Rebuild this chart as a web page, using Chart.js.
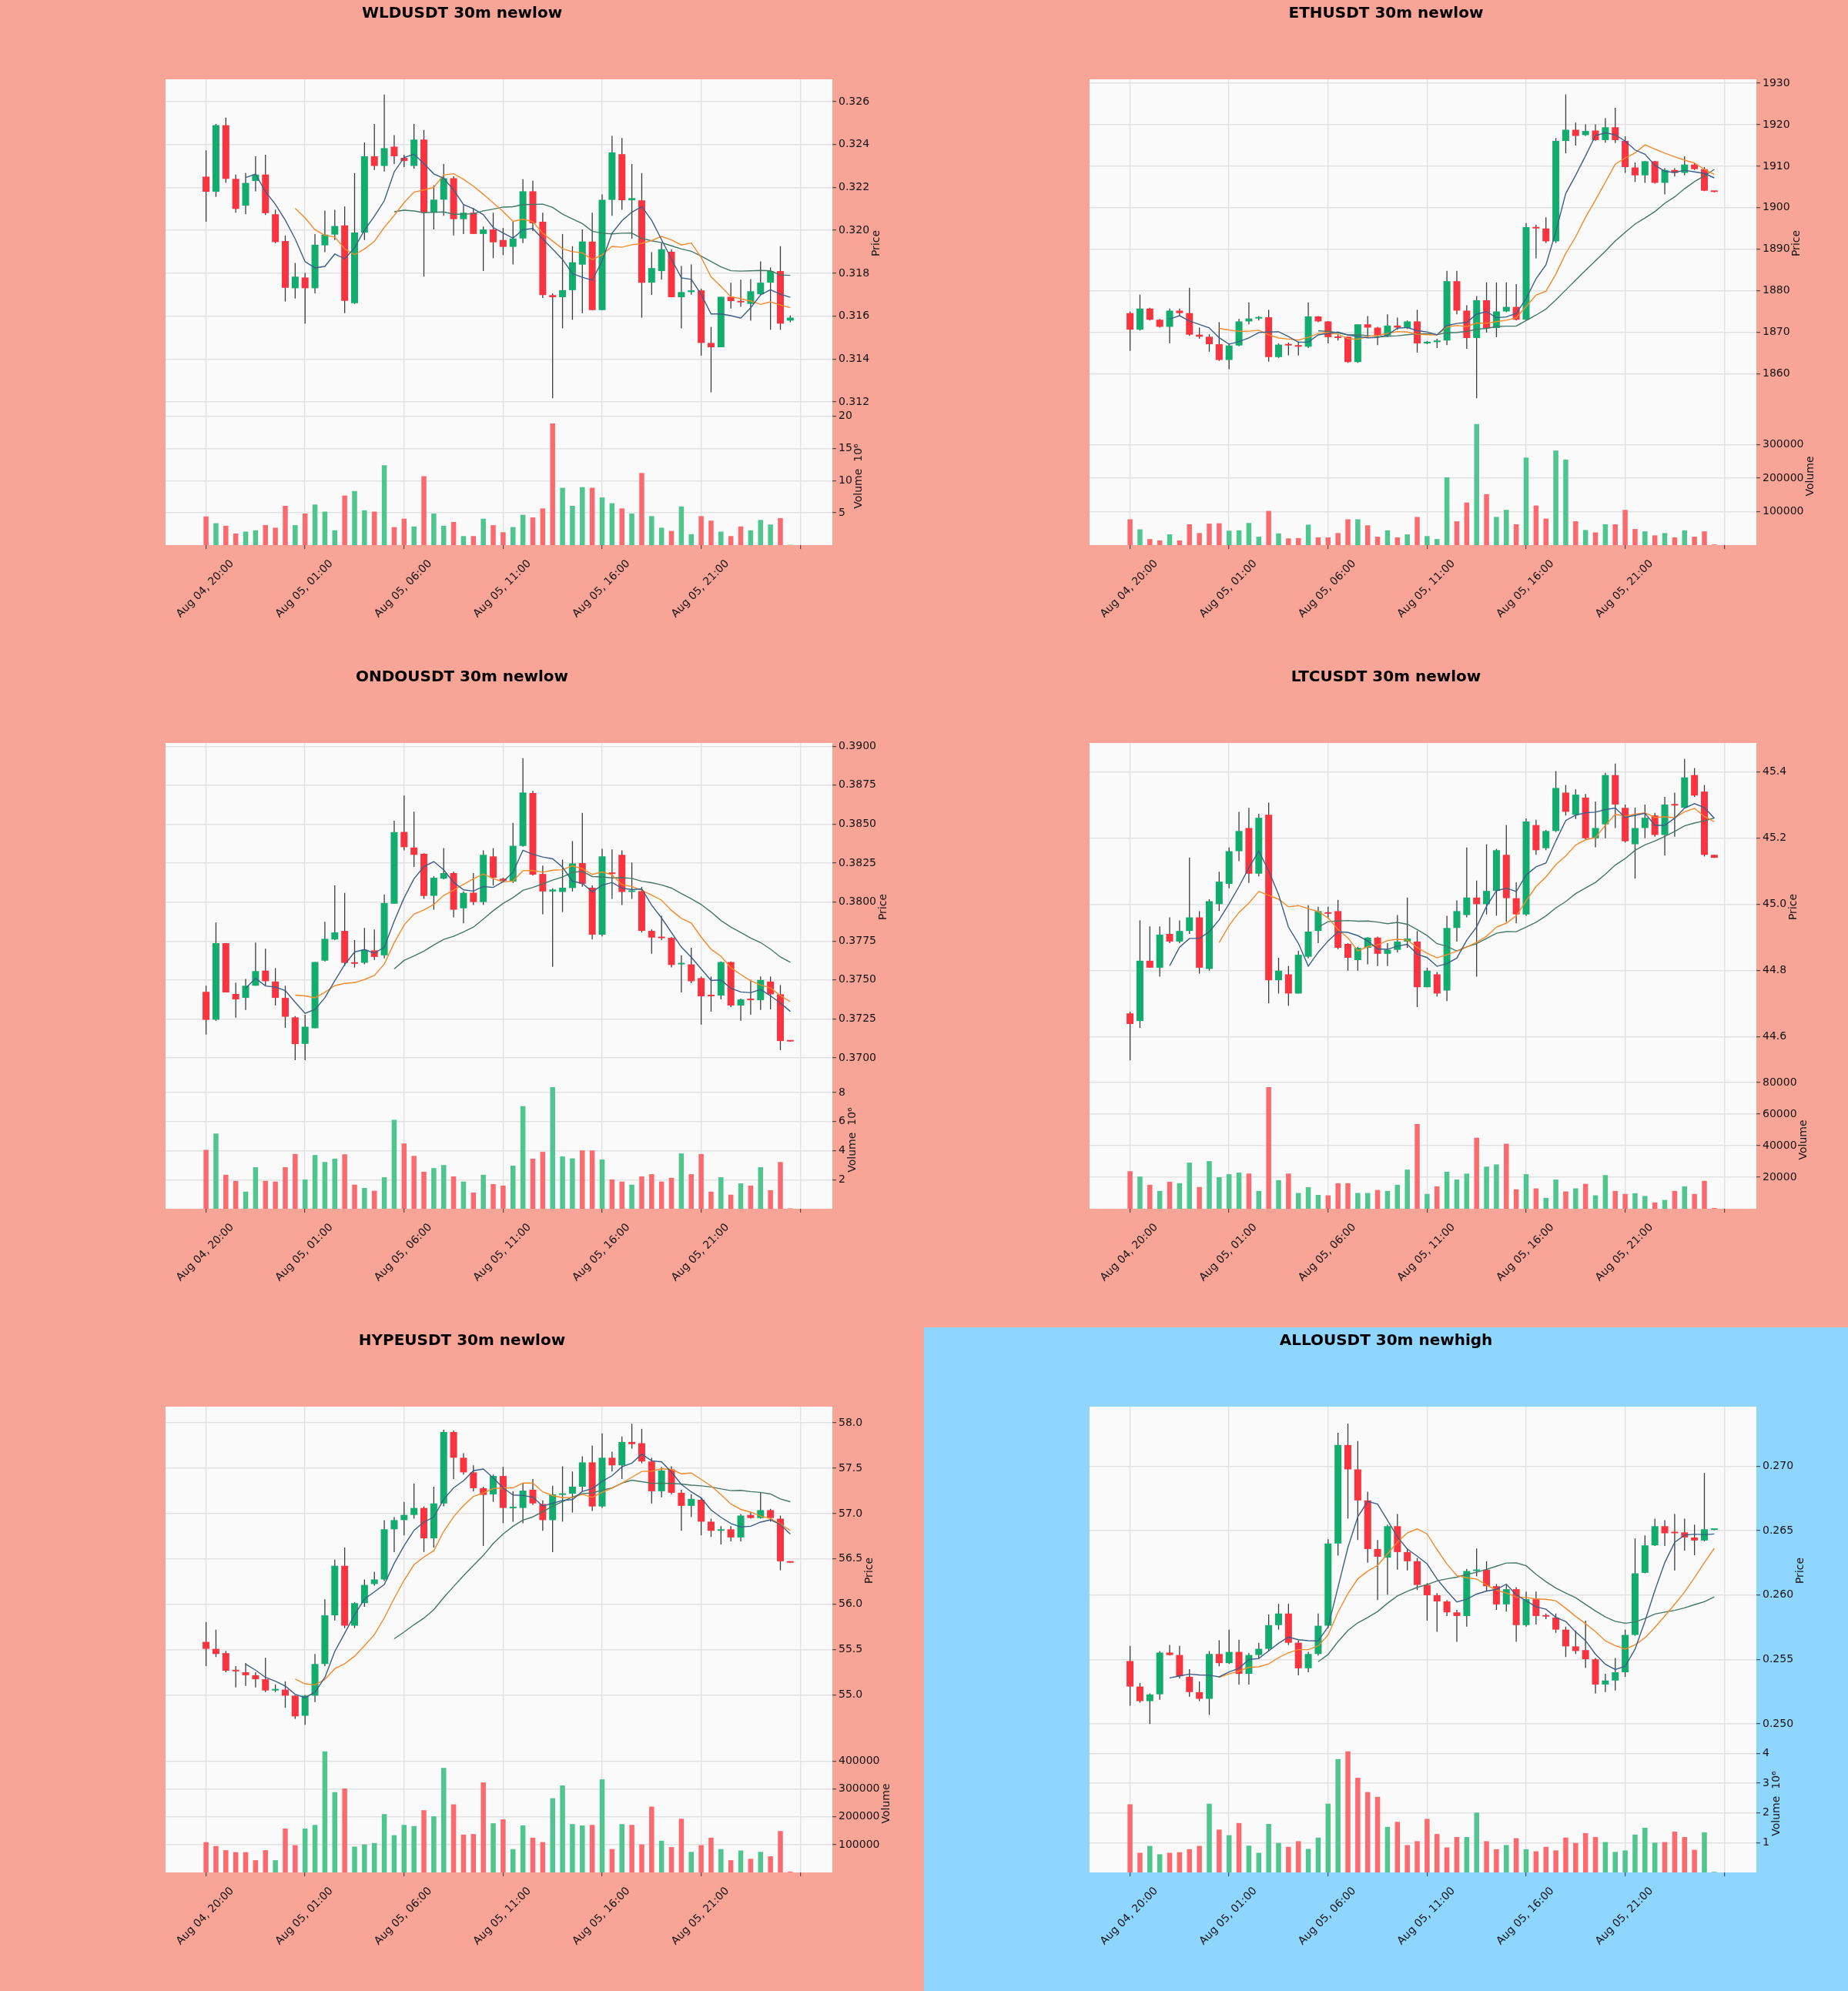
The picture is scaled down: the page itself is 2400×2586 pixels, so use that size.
<!DOCTYPE html>
<html><head><meta charset="utf-8">
<script src="https://cdn.jsdelivr.net/npm/chart.js@4.4.0/dist/chart.umd.min.js"></script>
<style>
html,body{margin:0;padding:0;}
body{width:2400px;height:2586px;position:relative;overflow:hidden;background:#F8A598;}
.panel{position:absolute;width:1200px;height:862px;}
.panel canvas{position:absolute;left:0;top:0;}
.ttl{position:absolute;left:0;width:1200px;top:4px;line-height:24px;text-align:center;font:bold 20px "DejaVu Sans";color:#000;}
</style></head><body>
<script>
// ---------- shared axis data ----------
const xTickPositions = [0,10,20,30,40,50,60];
const xTickLabels = ['Aug 04, 20:00','Aug 05, 01:00','Aug 05, 06:00','Aug 05, 11:00','Aug 05, 16:00','Aug 05, 21:00',''];
const maPeriods = [5,10,20];

// ---------- WLDUSDT ----------
const wldOpen = [0.3225,0.3218,0.3249,0.3224,0.32115,0.3223,0.3226,0.32075,0.3195,0.3173,0.3178,0.3173,0.3193,0.3198,0.32023,0.3166,0.3199,0.32345,0.3230,0.3239,0.32338,0.3230,0.32423,0.32082,0.32143,0.32243,0.32052,0.32082,0.31983,0.32004,0.31955,0.31923,0.31962,0.32182,0.3204,0.31698,0.31688,0.31721,0.3184,0.31948,0.31628,0.32142,0.32355,0.3214,0.3214,0.31756,0.3181,0.319,0.31688,0.31712,0.3172,0.31475,0.31455,0.3169,0.3167,0.31657,0.31702,0.31756,0.3181,0.31579];
const wldHigh = [0.32373,0.32496,0.32525,0.3226,0.32267,0.32345,0.32352,0.32096,0.31976,0.31848,0.31801,0.31983,0.32092,0.32096,0.32111,0.32267,0.32409,0.32496,0.32633,0.32444,0.32352,0.32496,0.32468,0.3221,0.32309,0.32252,0.32118,0.32104,0.32018,0.32082,0.32011,0.3204,0.32238,0.32231,0.32082,0.31706,0.31983,0.31926,0.32004,0.32082,0.32167,0.3244,0.3243,0.32309,0.32267,0.31898,0.3194,0.31912,0.31834,0.31841,0.31728,0.3155,0.3169,0.31756,0.3177,0.31773,0.31855,0.31827,0.31926,0.31603];
const wldLow = [0.3204,0.32156,0.32221,0.32082,0.32075,0.32182,0.32071,0.3194,0.31668,0.31682,0.31565,0.31706,0.31898,0.31955,0.31614,0.31657,0.31955,0.32281,0.32274,0.32309,0.32295,0.32288,0.31784,0.32004,0.32068,0.31976,0.31983,0.31983,0.3181,0.3187,0.31884,0.31841,0.3194,0.31997,0.31685,0.31217,0.31543,0.31583,0.31614,0.31628,0.31628,0.32068,0.32096,0.31961,0.31593,0.31699,0.3177,0.31688,0.31543,0.317,0.31416,0.31245,0.31455,0.31635,0.31643,0.31579,0.31699,0.31536,0.31536,0.31572];
const wldClose = [0.3218,0.3249,0.3224,0.3210,0.32221,0.3226,0.3208,0.31945,0.31732,0.31784,0.3173,0.31933,0.3198,0.3202,0.31671,0.3199,0.32345,0.3230,0.32383,0.32345,0.32323,0.32423,0.32082,0.32143,0.32243,0.32052,0.32082,0.31983,0.32004,0.31944,0.31923,0.31962,0.32182,0.32033,0.31698,0.31688,0.31721,0.31851,0.31948,0.31628,0.32142,0.32363,0.3214,0.3215,0.31756,0.31824,0.31912,0.31688,0.31712,0.3172,0.31475,0.31455,0.3169,0.3167,0.31664,0.31716,0.31756,0.3181,0.31565,0.31593];
const wldVolume = [4.45,3.4,3.0,1.8,2.1,2.3,3.1,2.7,6.1,3.1,4.9,6.3,5.2,2.3,7.7,8.4,5.4,5.2,12.4,2.8,4.1,2.9,10.7,4.9,3.0,3.6,1.4,1.4,4.1,3.1,2.0,2.8,4.7,4.3,5.7,18.9,8.9,6.1,9.0,8.9,7.4,6.5,5.7,4.9,11.2,4.5,2.7,2.2,6.0,1.7,4.5,3.8,2.1,1.4,2.9,2.3,3.9,3.2,4.2,0.05];
const wldPriceTicks = [0.312,0.314,0.316,0.318,0.320,0.322,0.324,0.326];
const wldPriceLabels = ['0.312','0.314','0.316','0.318','0.320','0.322','0.324','0.326'];
const wldVolTicks = [5,10,15,20];
const wldVolLabels = ['5','10','15','20'];

// ---------- ETHUSDT ----------
const ethOpen = [1874.6,1870.6,1875.7,1873.0,1871.3,1875.2,1874.6,1869.4,1868.9,1867.1,1863.3,1866.8,1872.6,1873.3,1873.6,1864.0,1867.0,1866.9,1866.5,1873.8,1872.6,1868.9,1868.9,1862.8,1871.9,1871.1,1869.2,1871.6,1871.0,1872.6,1867.3,1867.6,1868.0,1882.3,1875.2,1868.6,1877.7,1871.0,1875.0,1876.1,1873.0,1895.3,1895.0,1891.9,1916.1,1918.8,1917.5,1918.6,1916.3,1919.4,1916.1,1909.7,1907.8,1911.2,1906.0,1909.1,1908.4,1910.4,1909.3,1903.9];
const ethHigh = [1875.0,1879.05,1875.9,1873.2,1875.7,1875.7,1880.7,1871.1,1869.5,1872.4,1867.3,1873.2,1877.2,1873.9,1875.4,1867.3,1867.5,1867.7,1877.2,1873.9,1872.7,1869.5,1868.9,1871.9,1873.9,1871.3,1874.3,1873.5,1872.8,1875.4,1867.9,1868.4,1884.8,1884.8,1876.5,1878.7,1882.0,1882.0,1882.0,1881.6,1896.3,1895.9,1897.7,1916.8,1927.3,1920.5,1920.1,1920.1,1921.6,1924.1,1917.2,1910.9,1911.3,1911.3,1909.5,1909.5,1912.4,1910.9,1909.8,1904.0];
const ethLow = [1865.5,1870.4,1872.8,1871.1,1867.3,1873.9,1869.1,1868.4,1865.3,1863.1,1861.1,1866.6,1871.9,1872.8,1862.9,1863.8,1864.4,1864.4,1866.2,1872.4,1867.3,1868.0,1862.6,1862.6,1868.8,1866.9,1868.8,1870.6,1870.8,1865.1,1867.1,1866.2,1866.9,1874.3,1866.0,1854.1,1869.9,1868.8,1874.8,1872.8,1872.8,1887.8,1891.5,1891.5,1913.1,1915.0,1917.3,1916.1,1915.7,1915.6,1908.4,1906.2,1906.0,1905.8,1903.2,1907.5,1907.8,1909.1,1904.0,1903.7];
const ethClose = [1870.6,1875.7,1873.0,1871.3,1875.2,1874.6,1869.4,1868.9,1867.1,1863.3,1866.8,1872.6,1873.3,1873.6,1864.0,1867.0,1866.8,1866.5,1873.8,1872.6,1868.8,1868.6,1862.8,1871.9,1871.1,1869.2,1871.6,1871.1,1872.6,1867.3,1867.7,1868.0,1882.3,1875.2,1868.6,1877.7,1871.0,1875.0,1876.1,1873.0,1895.3,1895.0,1891.9,1916.1,1918.8,1917.3,1918.5,1916.3,1919.4,1916.3,1909.8,1907.8,1911.2,1906.0,1909.1,1908.4,1910.4,1909.3,1904.1,1903.8];
const ethVolume = [77000,47000,18000,14000,32000,14000,62000,36000,64000,65000,43000,44000,66000,25000,102000,35000,20000,21000,61000,23000,23000,36000,77000,77000,59000,25000,44000,23000,32000,84000,27000,18000,202000,71000,127000,361000,152000,84000,105000,62000,261000,118000,79000,282000,255000,71000,45000,38000,62000,62000,105000,48000,41000,29000,36000,23000,44000,25000,41000,2000];
const ethPriceTicks = [1860,1870,1880,1890,1900,1910,1920,1930];
const ethPriceLabels = ['1860','1870','1880','1890','1900','1910','1920','1930'];
const ethVolTicks = [100000,200000,300000];
const ethVolLabels = ['100000','200000','300000'];

// ---------- ONDOUSDT ----------
const ondoOpen = [0.37424,0.37244,0.37736,0.3741,0.37385,0.37463,0.3756,0.3749,0.37385,0.3726,0.3709,0.3719,0.37624,0.3776,0.37815,0.3761,0.3761,0.3769,0.37658,0.3799,0.3845,0.3835,0.3831,0.3804,0.3815,0.38186,0.3796,0.3806,0.38,0.38293,0.3815,0.38131,0.3836,0.387,0.3818,0.38068,0.38065,0.3809,0.3825,0.38092,0.3779,0.38186,0.38303,0.38065,0.3807,0.37815,0.3777,0.3777,0.376,0.376,0.37512,0.374,0.374,0.37615,0.37336,0.37375,0.3737,0.3749,0.37408,0.37106];
const ondoHigh = [0.37463,0.37869,0.37736,0.37483,0.37506,0.3774,0.37701,0.37576,0.37463,0.37268,0.37277,0.37615,0.37873,0.38107,0.38059,0.37756,0.37834,0.37824,0.38049,0.38522,0.38684,0.3858,0.38313,0.38166,0.38346,0.38195,0.38068,0.38186,0.38332,0.38346,0.38156,0.38508,0.38924,0.38713,0.38234,0.38088,0.38273,0.38391,0.38572,0.38107,0.38342,0.38338,0.38332,0.38254,0.38098,0.37824,0.37912,0.37776,0.37658,0.37707,0.37522,0.37522,0.37619,0.37619,0.37381,0.37502,0.37522,0.37522,0.37467,0.37106];
const ondoLow = [0.3715,0.37238,0.3742,0.37258,0.37307,0.37463,0.37463,0.37336,0.37193,0.36985,0.36985,0.3719,0.37619,0.37756,0.3759,0.3758,0.376,0.37629,0.37639,0.3799,0.38332,0.38225,0.3802,0.37951,0.38147,0.37902,0.37863,0.37981,0.37981,0.38107,0.38127,0.38123,0.38355,0.3817,0.37922,0.37584,0.37936,0.38068,0.38098,0.3776,0.37779,0.3802,0.37981,0.3802,0.37805,0.37668,0.37756,0.3758,0.3742,0.37479,0.37213,0.37297,0.37375,0.37326,0.37238,0.37277,0.37307,0.37311,0.37049,0.37105];
const ondoClose = [0.37244,0.37736,0.3742,0.37375,0.37463,0.37557,0.37492,0.37385,0.37264,0.37088,0.372,0.37615,0.37764,0.37805,0.3761,0.37604,0.37693,0.37648,0.37994,0.38449,0.38352,0.38303,0.38039,0.38156,0.38186,0.37951,0.38059,0.38,0.38303,0.38156,0.38137,0.38361,0.38703,0.38176,0.38068,0.3808,0.38092,0.38248,0.38117,0.37791,0.38293,0.3818,0.38065,0.3807,0.37815,0.37772,0.37768,0.37596,0.37604,0.37492,0.37395,0.37395,0.37615,0.37336,0.37375,0.3737,0.375,0.37408,0.37108,0.37105];
const ondoVolume = [4.06,5.18,2.34,1.92,1.18,2.86,1.92,1.87,2.86,3.77,2.02,3.7,3.22,3.45,3.75,1.66,1.43,1.24,2.17,6.13,4.5,3.64,2.55,2.8,3.01,2.23,1.87,1.12,2.34,1.7,1.6,2.97,7.07,3.45,3.92,8.38,3.6,3.47,4.02,4.02,3.39,2.02,1.87,1.66,2.23,2.38,1.87,2.13,3.81,2.38,3.77,1.18,2.17,0.97,1.75,1.6,2.86,1.28,3.22,0.03];
const ondoPriceTicks = [0.37,0.3725,0.375,0.3775,0.38,0.3825,0.385,0.3875,0.39];
const ondoPriceLabels = ['0.3700','0.3725','0.3750','0.3775','0.3800','0.3825','0.3850','0.3875','0.3900'];
const ondoVolTicks = [2,4,6,8];
const ondoVolLabels = ['2','4','6','8'];

// ---------- LTCUSDT ----------
const ltcOpen = [44.671,44.648,44.830,44.809,44.911,44.888,44.920,44.961,44.805,45.001,45.062,45.161,45.231,45.093,45.271,44.771,44.789,44.731,44.842,44.920,44.975,44.980,44.881,44.832,44.869,44.900,44.851,44.863,44.888,44.888,44.750,44.789,44.740,44.929,44.968,45.021,45.001,45.041,45.150,45.019,44.970,45.240,45.170,45.222,45.338,45.271,45.323,45.200,45.242,45.391,45.292,45.182,45.231,45.269,45.210,45.302,45.292,45.391,45.341,45.150];
const ltcHigh = [44.676,44.952,44.934,44.934,44.961,44.952,45.142,44.980,45.016,45.099,45.172,45.280,45.292,45.274,45.308,44.839,44.814,44.860,44.998,44.993,44.993,45.014,44.883,44.872,44.901,44.903,44.883,44.968,45.021,44.920,44.809,44.796,44.966,45.012,45.172,45.072,45.182,45.168,45.240,45.067,45.260,45.256,45.225,45.403,45.361,45.348,45.334,45.311,45.398,45.426,45.302,45.293,45.302,45.277,45.325,45.338,45.440,45.412,45.361,45.150];
const ltcLow = [44.529,44.627,44.809,44.782,44.883,44.883,44.911,44.791,44.800,44.980,45.049,45.131,45.065,45.085,44.701,44.731,44.694,44.731,44.837,44.883,44.957,44.865,44.800,44.800,44.819,44.814,44.814,44.855,44.869,44.690,44.750,44.722,44.708,44.888,44.961,44.782,44.970,44.966,44.947,44.943,44.966,45.150,45.164,45.219,45.269,45.258,45.196,45.173,45.200,45.231,45.187,45.078,45.200,45.205,45.148,45.205,45.292,45.325,45.145,45.141];
const ltcClose = [44.639,44.830,44.809,44.909,44.888,44.920,44.961,44.809,45.010,45.069,45.161,45.222,45.093,45.262,44.771,44.800,44.731,44.848,44.918,44.980,44.972,44.869,44.839,44.869,44.900,44.851,44.863,44.888,44.897,44.750,44.800,44.731,44.929,44.980,45.021,45.001,45.041,45.164,45.019,44.970,45.251,45.164,45.222,45.352,45.280,45.332,45.200,45.231,45.391,45.302,45.191,45.231,45.262,45.210,45.302,45.299,45.384,45.329,45.150,45.141];
const ltcVolume = [23800,20400,15200,11300,17100,16200,29200,13800,30200,20000,21900,22900,22300,11300,77100,18100,22300,10000,13700,8800,8500,16200,16200,10000,10000,11900,11300,15200,24800,53700,9400,14200,23500,18500,22300,45000,26700,28100,41200,12300,21900,12900,6900,18500,11000,12900,15800,8500,21300,11300,9400,9800,8100,4000,5600,11300,14200,9400,17700,500];
const ltcPriceTicks = [44.6,44.8,45.0,45.2,45.4];
const ltcPriceLabels = ['44.6','44.8','45.0','45.2','45.4'];
const ltcVolTicks = [20000,40000,60000,80000];
const ltcVolLabels = ['20000','40000','60000','80000'];

// ---------- HYPEUSDT ----------
const hypeOpen = [55.587,55.510,55.463,55.269,55.252,55.219,55.175,55.051,55.061,54.994,54.773,54.994,55.343,55.879,56.425,55.765,56.013,56.224,56.274,56.827,56.928,56.985,57.062,56.727,57.112,57.899,57.615,57.454,57.280,57.212,57.414,57.058,57.062,57.263,57.105,56.928,57.206,57.219,57.296,57.564,57.078,57.615,57.531,57.789,57.775,57.574,57.246,57.487,57.229,57.085,57.152,56.911,56.810,56.827,56.737,56.985,56.951,57.038,56.944,56.469];
const hypeHigh = [55.805,55.721,55.487,55.319,55.353,55.252,55.410,55.118,55.152,55.001,55.001,55.453,56.056,56.492,56.626,56.023,56.274,56.358,56.928,56.961,57.129,57.330,57.079,57.296,57.923,57.916,57.665,57.531,57.296,57.430,57.514,57.246,57.330,57.380,57.145,57.306,57.521,57.464,57.631,57.749,57.883,57.682,57.849,57.990,57.933,57.615,57.514,57.521,57.263,57.213,57.179,56.944,56.861,56.861,56.995,57.011,57.229,57.052,56.978,56.469];
const hypeLow = [55.319,55.420,55.252,55.085,55.101,55.085,55.034,55.034,54.860,54.739,54.673,54.924,55.319,55.822,55.738,55.738,55.973,56.207,56.258,56.576,56.760,56.944,56.576,56.626,57.079,57.380,57.430,57.246,56.643,57.129,56.894,56.911,56.894,57.095,56.810,56.576,56.911,57.011,57.246,57.028,57.062,57.464,57.380,57.715,57.554,57.112,57.179,57.213,56.810,56.961,56.760,56.743,56.660,56.693,56.693,56.944,56.944,56.911,56.375,56.459];
const hypeClose = [55.510,55.453,55.269,55.262,55.219,55.175,55.051,55.061,54.994,54.766,54.994,55.343,55.879,56.425,55.765,56.013,56.214,56.274,56.827,56.928,56.985,57.062,56.727,57.112,57.899,57.615,57.454,57.280,57.206,57.414,57.062,57.062,57.253,57.112,56.928,57.212,57.219,57.296,57.564,57.078,57.615,57.531,57.789,57.765,57.574,57.246,57.474,57.229,57.085,57.162,56.911,56.810,56.827,56.737,56.978,56.951,57.038,56.951,56.475,56.459];
const hypeVolume = [109000,95000,80000,73000,73000,44000,80000,44000,158000,98000,158000,171000,436000,289000,302000,93000,101000,106000,210000,134000,171000,167000,224000,202000,376000,245000,136000,138000,324000,177000,191000,84000,169000,125000,109000,267000,313000,174000,169000,171000,335000,84000,174000,171000,101000,237000,114000,91000,193000,74000,98000,125000,84000,44000,79000,49000,74000,58000,149000,3000];
const hypePriceTicks = [55.0,55.5,56.0,56.5,57.0,57.5,58.0];
const hypePriceLabels = ['55.0','55.5','56.0','56.5','57.0','57.5','58.0'];
const hypeVolTicks = [100000,200000,300000,400000];
const hypeVolLabels = ['100000','200000','300000','400000'];

// ---------- ALLOUSDT ----------
const alloOpen = [0.25488,0.2529,0.25177,0.2523,0.25554,0.25535,0.25366,0.25247,0.25195,0.25543,0.25472,0.25559,0.25389,0.25535,0.25583,0.25767,0.25857,0.2563,0.25432,0.25543,0.25762,0.264,0.27165,0.26976,0.26735,0.26358,0.26291,0.26535,0.26334,0.26263,0.26079,0.25999,0.25951,0.25866,0.25838,0.26187,0.26197,0.26069,0.25928,0.26046,0.25767,0.25968,0.25838,0.25826,0.25732,0.25602,0.25573,0.25502,0.25306,0.25337,0.25401,0.25691,0.26173,0.26386,0.26535,0.26485,0.26487,0.26447,0.26424,0.26506];
const alloHigh = [0.25606,0.25318,0.25236,0.25566,0.25613,0.25606,0.25425,0.2533,0.25566,0.25649,0.25732,0.25654,0.2555,0.2563,0.2585,0.25932,0.25932,0.25649,0.25559,0.25857,0.26433,0.2726,0.27331,0.27196,0.26802,0.26428,0.26547,0.26629,0.26362,0.26287,0.26093,0.26015,0.25961,0.25885,0.26204,0.26362,0.26263,0.26086,0.26079,0.26062,0.26027,0.26027,0.25857,0.25857,0.25755,0.25725,0.25802,0.25512,0.25389,0.25512,0.25732,0.2644,0.26464,0.26594,0.26582,0.26629,0.26594,0.26547,0.26948,0.26513];
const alloLow = [0.25141,0.25165,0.24999,0.25188,0.25531,0.25354,0.25212,0.25177,0.2507,0.25448,0.25465,0.25306,0.25306,0.25507,0.25566,0.25732,0.25613,0.25377,0.25401,0.25531,0.25743,0.26306,0.26594,0.26428,0.26251,0.25961,0.26003,0.26197,0.26192,0.26039,0.25802,0.25715,0.25838,0.25637,0.25755,0.26145,0.26027,0.25885,0.25873,0.25637,0.25755,0.25772,0.25814,0.25708,0.25519,0.25543,0.25436,0.25236,0.25247,0.25259,0.25365,0.25684,0.26169,0.26381,0.26381,0.26192,0.26346,0.2631,0.26417,0.26504];
const alloClose = [0.2529,0.25177,0.25229,0.25554,0.25535,0.2537,0.25247,0.25195,0.25543,0.25472,0.25559,0.25389,0.25535,0.25583,0.25767,0.25857,0.2563,0.25432,0.25543,0.25762,0.264,0.27165,0.26976,0.26735,0.26358,0.26298,0.26535,0.26334,0.26263,0.26079,0.25999,0.25951,0.25866,0.25838,0.26187,0.26197,0.26069,0.25928,0.26046,0.25767,0.25968,0.25838,0.25833,0.25732,0.25602,0.25566,0.25502,0.25306,0.25337,0.25401,0.25691,0.26169,0.26386,0.26535,0.2648,0.2648,0.26447,0.26424,0.26511,0.2651];
const alloVolume = [2.29,0.66,0.89,0.61,0.66,0.68,0.78,0.89,2.31,1.44,1.25,1.66,0.9,0.66,1.63,0.99,0.86,1.05,0.79,1.17,2.31,3.81,4.07,3.18,2.7,2.54,1.53,1.70,0.92,1.05,1.80,1.29,0.84,1.19,1.19,2.01,1.05,0.78,0.92,1.15,0.78,0.71,0.86,0.74,1.17,0.99,1.32,1.19,1.02,0.69,0.74,1.27,1.50,1.0,1.02,1.37,1.19,0.76,1.35,0.02];
const alloPriceTicks = [0.250,0.255,0.260,0.265,0.270];
const alloPriceLabels = ['0.250','0.255','0.260','0.265','0.270'];
const alloVolTicks = [1,2,3,4];
const alloVolLabels = ['1','2','3','4'];

// ---------- panel table built from the arrays ----------
const SALMON = '#F8A598', SKY = '#8ED6FE';
const panels = [
  {title:'WLDUSDT 30m newlow', bg:SALMON, left:0, top:0, open:wldOpen, high:wldHigh, low:wldLow, close:wldClose, volume:wldVolume,
   pMin:0.31175, pMax:0.32704, vMax:21.4, pTicks:wldPriceTicks, pLabels:wldPriceLabels, vTicks:wldVolTicks, vLabels:wldVolLabels, vTitle:'Volume  10\u2076'},
  {title:'ETHUSDT 30m newlow', bg:SALMON, left:1200, top:0, open:ethOpen, high:ethHigh, low:ethLow, close:ethClose, volume:ethVolume,
   pMin:1851.9, pMax:1930.95, vMax:411000, pTicks:ethPriceTicks, pLabels:ethPriceLabels, vTicks:ethVolTicks, vLabels:ethVolLabels, vTitle:'Volume'},
  {title:'ONDOUSDT 30m newlow', bg:SALMON, left:0, top:862, open:ondoOpen, high:ondoHigh, low:ondoLow, close:ondoClose, volume:ondoVolume,
   pMin:0.36916, pMax:0.39021, vMax:9.49, pTicks:ondoPriceTicks, pLabels:ondoPriceLabels, vTicks:ondoVolTicks, vLabels:ondoVolLabels, vTitle:'Volume  10\u2076'},
  {title:'LTCUSDT 30m newlow', bg:SALMON, left:1200, top:862, open:ltcOpen, high:ltcHigh, low:ltcLow, close:ltcClose, volume:ltcVolume,
   pMin:44.497, pMax:45.488, vMax:87300, pTicks:ltcPriceTicks, pLabels:ltcPriceLabels, vTicks:ltcVolTicks, vLabels:ltcVolLabels, vTitle:'Volume'},
  {title:'HYPEUSDT 30m newlow', bg:SALMON, left:0, top:1724, open:hypeOpen, high:hypeHigh, low:hypeLow, close:hypeClose, volume:hypeVolume,
   pMin:54.565, pMax:58.178, vMax:496000, pTicks:hypePriceTicks, pLabels:hypePriceLabels, vTicks:hypeVolTicks, vLabels:hypeVolLabels, vTitle:'Volume'},
  {title:'ALLOUSDT 30m newhigh', bg:SKY, left:1200, top:1724, open:alloOpen, high:alloHigh, low:alloLow, close:alloClose, volume:alloVolume,
   pMin:0.24917, pMax:0.27463, vMax:4.63, pTicks:alloPriceTicks, pLabels:alloPriceLabels, vTicks:alloVolTicks, vLabels:alloVolLabels, vTitle:'Volume  10\u2076'}
];

// ---------- style ----------
const UP = '#12ad6e', DOWN = '#f7343f', VUP = '#4fc590', VDOWN = '#fb6a6f', WICK = '#3c3c3c';
const MA_COLORS = ['#3a5f88', '#f58a2a', '#437866'];
const GRID = '#e2e2e2', FONT = 'DejaVu Sans', TXT = '#111';

function movingAverage(arr, n) {
  const out = [];
  for (let i = n - 1; i < arr.length; i++) {
    let s = 0; for (let k = i - n + 1; k <= i; k++) s += arr[k];
    out.push({x: i, y: s / n});
  }
  return out;
}

const decoPlugin = {
  id: 'deco',
  beforeDraw(chart) {
    const {ctx, chartArea: a} = chart;
    ctx.save(); ctx.fillStyle = '#fafafa';
    ctx.fillRect(a.left, a.top, a.right - a.left, a.bottom - a.top);
    ctx.restore();
  },
  afterDraw(chart) {
    const ctx = chart.ctx, titles = chart.options.plugins.deco;
    ['yP', 'yV'].forEach(id => {
      const s = chart.scales[id];
      ctx.save();
      ctx.font = '14px "' + FONT + '"';
      let w = 0;
      s.ticks.forEach(t => { w = Math.max(w, ctx.measureText(String(t.label)).width); });
      const x = chart.chartArea.right + 8 + w + 9;
      const y = (s.top + s.bottom) / 2;
      ctx.translate(x, y); ctx.rotate(-Math.PI / 2);
      ctx.textAlign = 'center'; ctx.textBaseline = 'middle'; ctx.fillStyle = TXT;
      ctx.fillText(titles[id], 0, 0);
      ctx.restore();
    });
  }
};

function yScale(min, max, ticks, labels, weight) {
  return {
    type: 'linear', position: 'right', stack: 'main', stackWeight: weight, min: min, max: max, bounds: 'data',
    grid: {color: GRID, lineWidth: 1.4, tickColor: '#333', tickLength: 5, tickWidth: 1},
    border: {display: false},
    afterBuildTicks: s => { s.ticks = ticks.map(v => ({value: v})); },
    afterFit: s => { s.width = 100; },
    ticks: {padding: 3, color: TXT, font: {family: FONT, size: 14}, callback: (v, i) => labels[i]}
  };
}

panels.forEach(p => {
  const div = document.createElement('div');
  div.className = 'panel';
  div.style.left = p.left + 'px'; div.style.top = p.top + 'px'; div.style.background = p.bg;
  const cv = document.createElement('canvas');
  cv.width = 1200; cv.height = 862;
  div.appendChild(cv);
  const t = document.createElement('div');
  t.className = 'ttl'; t.textContent = p.title;
  div.appendChild(t);
  document.body.appendChild(div);

  const idx = p.open.map((_, i) => i);
  const up = idx.map(i => p.close[i] >= p.open[i]);
  const datasets = [];
  maPeriods.forEach((n, k) => datasets.push({
    type: 'line', data: movingAverage(p.close, n), yAxisID: 'yP', xAxisID: 'x',
    borderColor: MA_COLORS[k], borderWidth: 1.4, pointRadius: 0, fill: false, tension: 0, order: 1
  }));
  datasets.push({
    type: 'bar', data: idx.map(i => ({x: i, y: [p.open[i], p.close[i]]})), yAxisID: 'yP', xAxisID: 'x',
    backgroundColor: up.map(u => u ? UP : DOWN), borderWidth: 0, grouped: false, maxBarThickness: 9, minBarLength: 2, order: 4
  });
  datasets.push({
    type: 'bar', data: idx.map(i => ({x: i, y: [p.low[i], p.high[i]]})), yAxisID: 'yP', xAxisID: 'x',
    backgroundColor: WICK, borderWidth: 0, grouped: false, maxBarThickness: 1.3, minBarLength: 1, order: 6
  });
  datasets.push({
    type: 'bar', data: idx.map(i => ({x: i, y: p.volume[i]})), yAxisID: 'yV', xAxisID: 'x',
    backgroundColor: up.map(u => u ? VUP : VDOWN), borderWidth: 0, grouped: false, maxBarThickness: 6.5, order: 4
  });

  new Chart(cv.getContext('2d'), {
    type: 'bar',
    data: {datasets: datasets},
    options: {
      responsive: false, animation: false, events: [],
      layout: {padding: {left: 215, top: 103, right: 19, bottom: 54}},
      plugins: {legend: {display: false}, tooltip: {enabled: false}, title: {display: false},
        deco: {yP: 'Price', yV: p.vTitle}},
      scales: {
        x: {
          type: 'linear', position: 'bottom', min: -4.09, max: 63.25, offset: false, bounds: 'data',
          grid: {offset: false, color: GRID, lineWidth: 1.4, tickColor: '#333', tickLength: 5, tickWidth: 1},
          border: {display: false},
          afterBuildTicks: s => { s.ticks = xTickPositions.map(v => ({value: v})); },
          afterFit: s => { s.height = 100; },
          ticks: {autoSkip: false, maxRotation: 45, minRotation: 45, labelOffset: 34, padding: 11,
            color: TXT, font: {family: FONT, size: 14}, callback: (v, i) => xTickLabels[i]}
        },
        yP: yScale(p.pMin, p.pMax, p.pTicks, p.pLabels, 426),
        yV: yScale(0, p.vMax, p.vTicks, p.vLabels, 179)
      }
    },
    plugins: [decoPlugin]
  });
});
</script>
</body></html>
